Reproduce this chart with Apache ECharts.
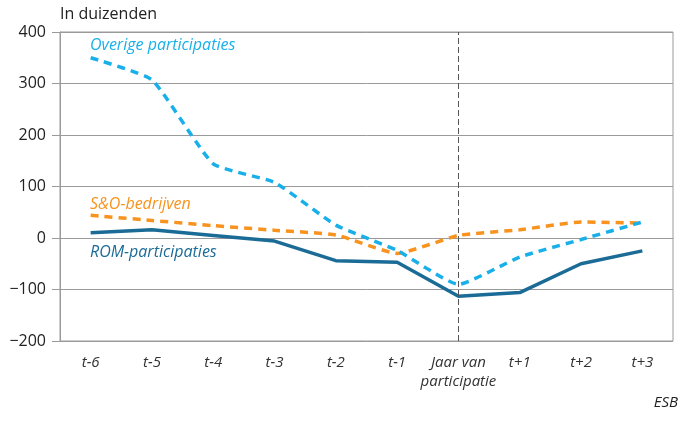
<!DOCTYPE html>
<html>
<head>
<meta charset="utf-8">
<script src="https://cdn.jsdelivr.net/npm/echarts@6/dist/echarts.min.js"></script>
<style>
  html, body { margin: 0; padding: 0; background: #fff; }
  #chart { width: 680px; height: 421px; }
</style>
</head>
<body>
<div id="chart"></div>
<script>
// categorieën en reeksen (in duizenden)
const categories = ['t-6', 't-5', 't-4', 't-3', 't-2', 't-1', 'Jaar van\nparticipatie', 't+1', 't+2', 't+3'];
const overige = [350, 307, 144, 108, 25, -24, -90, -37, -3, 31];
const sEnO = [44, 34, 24, 15, 6, -30, 5, 16, 31, 29];
const rom = [10, 16, 5, -6, -44, -47, -113, -106, -50, -25];
const yTicks = [-200, -100, 0, 100, 200, 300, 400];

const font = 'Open Sans';
const chart = echarts.init(document.getElementById('chart'));

const option = {
  animation: false,
  textStyle: { fontFamily: font },
  grid: { left: 60, right: 7, top: 32, bottom: 80, show: true, borderColor: '#9a9a9a', borderWidth: 1 },
  xAxis: {
    type: 'category',
    data: categories,
    boundaryGap: true,
    axisLine: { lineStyle: { color: '#9a9a9a', width: 1 } },
    axisTick: { alignWithLabel: true, length: 7, lineStyle: { color: '#9a9a9a' } },
    axisLabel: { color: '#333', fontSize: 15, fontStyle: 'italic', margin: 12, lineHeight: 19, interval: 0 }
  },
  yAxis: {
    type: 'value',
    min: yTicks[0],
    max: yTicks[yTicks.length - 1],
    interval: 100,
    axisLine: { show: true, lineStyle: { color: '#9a9a9a', width: 1 } },
    axisTick: { show: true, length: 8, lineStyle: { color: '#9a9a9a' } },
    splitLine: { lineStyle: { color: '#9a9a9a', width: 1 } },
    axisLabel: {
      color: '#222', fontSize: 16, margin: 14,
      formatter: v => (v < 0 ? '\u2212' + Math.abs(v) : String(v))
    }
  },
  series: [
    {
      name: 'Overige participaties',
      type: 'line',
      data: overige,
      smooth: 0.15,
      symbol: 'none',
      lineStyle: { color: '#19b0ea', width: 3.5, type: [8, 6] },
      markLine: {
        silent: true,
        symbol: 'none',
        label: { show: false },
        lineStyle: { color: '#555', width: 1, type: [6, 3] },
        data: [{ xAxis: categories[6] }]
      },
      z: 3
    },
    {
      name: 'S&O-bedrijven',
      type: 'line',
      data: sEnO,
      smooth: 0.15,
      symbol: 'none',
      lineStyle: { color: '#f7931e', width: 3.5, type: [8, 6] },
      z: 2
    },
    {
      name: 'ROM-participaties',
      type: 'line',
      data: rom,
      symbol: 'none',
      lineStyle: { color: '#1b6b97', width: 3.5 },
      z: 1
    }
  ],
  graphic: [
    { type: 'text', left: 60, top: 6, style: { text: 'In duizenden', fill: '#222', font: '16px "' + font + '"' } },
    { type: 'text', left: 90, top: 37, style: { text: 'Overige participaties', fill: '#19b0ea', font: 'italic 16px "' + font + '"' } },
    { type: 'text', left: 90, top: 196, style: { text: 'S&O-bedrijven', fill: '#f7931e', font: 'italic 16px "' + font + '"' } },
    { type: 'text', left: 90, top: 244, style: { text: 'ROM-participaties', fill: '#1b6b97', font: 'italic 16px "' + font + '"' } },
    { type: 'text', right: 2, top: 395, style: { text: 'ESB', fill: '#222', font: 'italic 15px "' + font + '"' } }
  ]
};

chart.setOption(option);
</script>
</body>
</html>
